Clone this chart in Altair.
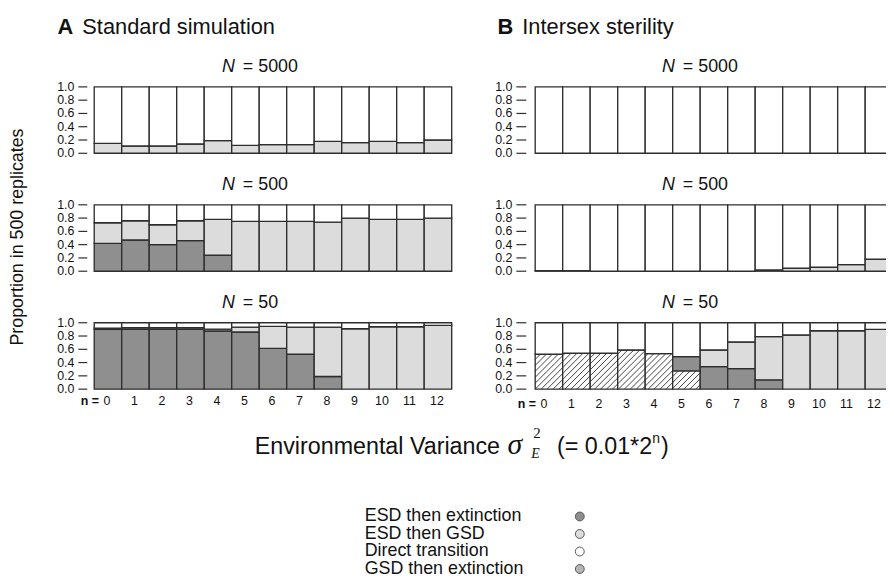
import altair as alt
import pandas as pd
import math

# ---------------- data ----------------
N_INDEX = list(range(13))
X_TICK_LABELS = [str(i) for i in N_INDEX]
POP_SIZES = [5000, 500, 50]
CATEGORIES = ["GSD then extinction", "ESD then extinction", "ESD then GSD", "Direct transition"]
FILLS = ["#ffffff", "#8f8f8f", "#dcdcdc", "#ffffff"]
LEGEND_ORDER = ["ESD then extinction", "ESD then GSD", "Direct transition", "GSD then extinction"]
LEGEND_FILLS = ["#8f8f8f", "#dcdcdc", "#ffffff", "#b5b5b5"]
Y_TICKS = [0.0, 0.2, 0.4, 0.6, 0.8, 1.0]
Y_TICK_LABELS = ["0.0", "0.2", "0.4", "0.6", "0.8", "1.0"]
PANEL_TITLES = {"A": "Standard simulation", "B": "Intersex sterility"}

ZERO = [0.0] * 13
# Panel A: standard simulation
A5000_GSD_EXT = ZERO
A5000_ESD_EXT = ZERO
A5000_ESD_GSD = [0.15, 0.11, 0.11, 0.14, 0.19, 0.12, 0.13, 0.13, 0.18, 0.16, 0.18, 0.16, 0.20]
A500_GSD_EXT = ZERO
A500_ESD_EXT = [0.42, 0.47, 0.40, 0.46, 0.24, 0, 0, 0, 0, 0, 0, 0, 0]
A500_ESD_GSD = [0.31, 0.29, 0.30, 0.30, 0.54, 0.75, 0.75, 0.75, 0.74, 0.80, 0.78, 0.78, 0.80]
A50_GSD_EXT = ZERO
A50_ESD_EXT = [0.90, 0.90, 0.90, 0.90, 0.875, 0.86, 0.615, 0.525, 0.19, 0, 0, 0, 0]
A50_ESD_GSD = [0.02, 0.025, 0.025, 0.025, 0.03, 0.075, 0.33, 0.41, 0.745, 0.91, 0.94, 0.94, 0.96]
# Panel B: intersex sterility
B5000_GSD_EXT = ZERO
B5000_ESD_EXT = ZERO
B5000_ESD_GSD = ZERO
B500_GSD_EXT = ZERO
B500_ESD_EXT = ZERO
B500_ESD_GSD = [0.01, 0.01, 0, 0, 0, 0, 0, 0, 0.02, 0.045, 0.06, 0.10, 0.18]
B50_GSD_EXT = [0.525, 0.54, 0.54, 0.59, 0.535, 0.275, 0, 0, 0, 0, 0, 0, 0]
B50_ESD_EXT = [0, 0, 0, 0, 0, 0.215, 0.34, 0.31, 0.14, 0, 0, 0, 0]
B50_ESD_GSD = [0, 0, 0, 0, 0, 0, 0.25, 0.40, 0.65, 0.815, 0.88, 0.88, 0.90]

SERIES = {
    ("A", 5000): (A5000_GSD_EXT, A5000_ESD_EXT, A5000_ESD_GSD),
    ("A", 500): (A500_GSD_EXT, A500_ESD_EXT, A500_ESD_GSD),
    ("A", 50): (A50_GSD_EXT, A50_ESD_EXT, A50_ESD_GSD),
    ("B", 5000): (B5000_GSD_EXT, B5000_ESD_EXT, B5000_ESD_GSD),
    ("B", 500): (B500_GSD_EXT, B500_ESD_EXT, B500_ESD_GSD),
    ("B", 50): (B50_GSD_EXT, B50_ESD_EXT, B50_ESD_GSD),
}

rows = []
for (panel, pop), (g, e, s) in SERIES.items():
    for i in N_INDEX:
        vals = [g[i], e[i], s[i]]
        vals.append(max(0.0, 1.0 - sum(vals)))
        base = 0.0
        for cat, v in zip(CATEGORIES, vals):
            if v > 0.0005:
                rows.append({"panel": panel, "N": pop, "n": i, "x0": i - 0.5, "x1": i + 0.5,
                             "y0": base, "y1": min(1.0, base + v), "category": cat})
            base += v
bars_df = pd.DataFrame(rows)

# ---------------- layout (pixels, chart coordinates) ----------------
FONT = "Liberation Sans"
SERIF = "Liberation Serif"
STROKE = "#2e2e2e"
W, H = 886, 573
PITCH = 27.75
PANEL_LEFT = {"A": 87, "B": 532}
ROW_TOP = [77, 196, 315]
ROW_H = 67
TICK_X = {"A": (71, 80), "B": (513, 523)}
TICK_LAB_X = {"A": 67, "B": 509}
XLAB_Y = {"A": 394, "B": 397}
XLAB_DX = {"A": -1, "B": -5}
TITLE_LEFT = {"A": 216, "B": 660}
HEADER_LEFT = {"A": 50, "B": 494}

one = pd.DataFrame({"a": [0]})


def text_at(txt, x, y, size, **kw):
    return alt.Chart(one).mark_text(text=txt, fontSize=size, font=kw.pop("font", FONT),
                                    align=kw.pop("align", "left"),
                                    baseline=kw.pop("baseline", "alphabetic"),
                                    color=kw.pop("color", "#111111"), **kw).encode(
        x=alt.value(x), y=alt.value(y))


layers = []
tick_df = pd.DataFrame({"v": Y_TICKS, "lab": Y_TICK_LABELS})
xlab_df = pd.DataFrame({"n": N_INDEX, "lab": X_TICK_LABELS})

for panel in ["A", "B"]:
    left = PANEL_LEFT[panel]
    right = left + 13 * PITCH
    layers.append(text_at(panel, HEADER_LEFT[panel], 24, 22, fontWeight="bold"))
    layers.append(text_at(PANEL_TITLES[panel], HEADER_LEFT[panel] + 25, 24, 22))
    for ri, pop in enumerate(POP_SIZES):
        top = ROW_TOP[ri]
        bottom = top + ROW_H
        xsc = alt.Scale(domain=[-0.5, 12.5], range=[left, right], nice=False, zero=False)
        ysc = alt.Scale(domain=[0, 1], range=[bottom, top], nice=False, zero=False)
        sub = bars_df[(bars_df.panel == panel) & (bars_df.N == pop)]
        layers.append(alt.Chart(sub).mark_rect(stroke=STROKE, strokeWidth=1.35).encode(
            x=alt.X("x0:Q", scale=xsc, axis=None), x2="x1:Q",
            y=alt.Y("y0:Q", scale=ysc, axis=None), y2="y1:Q",
            fill=alt.Fill("category:N", scale=alt.Scale(domain=CATEGORIES, range=FILLS), legend=None)))

        # hatching for "GSD then extinction"
        hat = sub[sub.category == "GSD then extinction"]
        if len(hat):
            segs = []
            spacing = 6.0
            for _, r in hat.iterrows():
                X0 = (r.x0 + 0.5) * PITCH
                X1 = (r.x1 + 0.5) * PITCH
                Y0 = r.y0 * ROW_H
                Y1 = r.y1 * ROW_H
                k0 = math.floor((X0 - Y1) / spacing) - 1
                k1 = math.ceil(X1 / spacing) + 1
                for k in range(k0, k1 + 1):
                    c = k * spacing
                    lo = max(Y0, X0 - c)
                    hi = min(Y1, X1 - c)
                    if hi - lo > 0.3:
                        segs.append({"xa": (c + lo) / PITCH - 0.5, "ya": lo / ROW_H,
                                     "xb": (c + hi) / PITCH - 0.5, "yb": hi / ROW_H})
            layers.append(alt.Chart(pd.DataFrame(segs)).mark_rule(stroke=STROKE, strokeWidth=0.9).encode(
                x=alt.X("xa:Q", scale=xsc, axis=None), x2="xb:Q",
                y=alt.Y("ya:Q", scale=ysc, axis=None), y2="yb:Q"))

        layers.append(alt.Chart(tick_df).mark_rule(stroke=STROKE, strokeWidth=1.2).encode(
            y=alt.Y("v:Q", scale=ysc, axis=None),
            x=alt.value(TICK_X[panel][0]), x2=alt.value(TICK_X[panel][1])))
        layers.append(alt.Chart(tick_df).mark_text(align="right", baseline="middle", fontSize=12.5,
                                                   font=FONT, color="#111111").encode(
            y=alt.Y("v:Q", scale=ysc, axis=None), x=alt.value(TICK_LAB_X[panel]), text="lab:N"))

        # row title  "N = 5000"
        tl = TITLE_LEFT[panel]
        layers.append(text_at("N", tl, top - 15, 18, fontStyle="italic"))
        layers.append(text_at(f"= {pop}", tl + 21, top - 15, 18))

        if ri == 2:
            layers.append(alt.Chart(xlab_df).mark_text(align="center", baseline="middle", fontSize=12.5,
                                                       font=FONT, color="#111111",
                                                       dx=XLAB_DX[panel]).encode(
                x=alt.X("n:Q", scale=xsc, axis=None), y=alt.value(XLAB_Y[panel]), text="lab:N"))
            layers.append(text_at("n =", left + PITCH / 2 + XLAB_DX[panel] - 8, XLAB_Y[panel], 12.5,
                                  fontWeight="bold", align="right", baseline="middle"))

# y title
layers.append(text_at("Proportion in 500 replicates", 10.5, 228.5, 18, angle=270,
                      align="center", baseline="middle"))

# x title: Environmental Variance sigma^2_E (= 0.01*2^n)
layers.append(text_at("Environmental Variance", 249, 447, 23.5))
layers.append(text_at("σ", 504, 447, 30, font=SERIF, fontStyle="italic"))
layers.append(text_at("2", 530, 431, 15, font=SERIF))
layers.append(text_at("E", 528, 451, 14, font=SERIF, fontStyle="italic"))
layers.append(text_at("(= 0.01*2", 554, 447, 23.5))
layers.append(text_at("n", 650, 436, 14))
layers.append(text_at(")", 659, 447, 23.5))

# legend
leg_df = pd.DataFrame({"cat": LEGEND_ORDER})
leg_y = alt.Scale(domain=LEGEND_ORDER, range=[510.5, 563.5], padding=0)
layers.append(alt.Chart(leg_df).mark_text(align="left", baseline="middle", fontSize=18,
                                          font=FONT, color="#111111").encode(
    y=alt.Y("cat:N", scale=leg_y, axis=None), x=alt.value(360), text="cat:N"))
layers.append(alt.Chart(leg_df).mark_circle(size=80, stroke="#555555", strokeWidth=1, opacity=1).encode(
    y=alt.Y("cat:N", scale=leg_y, axis=None), x=alt.value(577),
    fill=alt.Fill("cat:N", scale=alt.Scale(domain=LEGEND_ORDER, range=LEGEND_FILLS), legend=None)))

chart = alt.layer(*layers).resolve_scale(
    x="independent", y="independent", fill="independent"
).properties(
    width=W, height=H, autosize=alt.AutoSizeParams(type="none"), padding=0
).configure_view(stroke=None)

chart.save("out.html", embed_options={"renderer": "svg", "actions": False})
